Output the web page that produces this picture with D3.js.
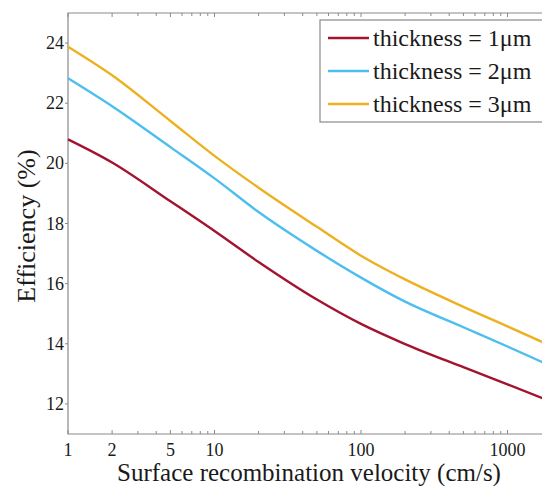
<!DOCTYPE html>
<html>
<head>
<meta charset="utf-8">
<script src="https://cdn.jsdelivr.net/npm/d3@7"></script>
<style>
  body { margin: 0; background: #fff; }
  svg { display: block; overflow: hidden; }
  text { font-family: "Liberation Serif", "Times New Roman", serif; fill: #1a1a1a; }
</style>
</head>
<body>
<div id="chart"></div>
<script>
const width = 542
const height = 486

// surface recombination velocity (cm/s)
const velocity = [1, 2, 5, 10, 20, 50, 100, 200, 500, 1000, 2000]
const eff1um = [20.8, 20.03, 18.74, 17.75, 16.72, 15.47, 14.66, 13.99, 13.22, 12.65, 12.07]
const eff2um = [22.83, 21.9, 20.54, 19.5, 18.38, 17.09, 16.2, 15.4, 14.55, 13.91, 13.25]
const eff3um = [23.88, 22.93, 21.41, 20.25, 19.19, 17.89, 16.93, 16.14, 15.23, 14.58, 13.92]

const seriesNames = ["thickness = 1\u03bcm", "thickness = 2\u03bcm", "thickness = 3\u03bcm"]
const seriesColors = ["#A2142F", "#4DBEEE", "#EDB120"]

const xTickValues = [1, 2, 5, 10, 100, 1000]
const yTickValues = [12, 14, 16, 18, 20, 22, 24]

const plotLeft = 68, plotTop = 13, plotBottom = 434
const plotRight = plotLeft + Math.log10(2000) * 146.5   // runs past the cropped edge

const x = d3.scaleLog().domain([1, 2000]).range([plotLeft, plotRight])
const y = d3.scaleLinear().domain([11, 25]).range([plotBottom, plotTop])

const svg = d3.select("#chart")
  .append("svg")
  .attr("width", width)
  .attr("height", height)

const axisColor = "#8a8a8a"

// minor ticks for the log axis
const minorTicks = []
for (let d = 1; d <= 1000; d *= 10) {
  for (let k = 1; k < 10; k++) {
    if (d * k <= 2000) minorTicks.push(d * k)
  }
}

// bottom ticks (pointing inward)
svg.append("g").selectAll("line")
  .data(minorTicks)
  .join("line")
  .attr("x1", d => x(d)).attr("x2", d => x(d))
  .attr("y1", plotBottom).attr("y2", d => xTickValues.includes(d) ? plotBottom - 4 : plotBottom - 3)
  .attr("stroke", axisColor)

// top ticks (mirror)
svg.append("g").selectAll("line")
  .data(minorTicks)
  .join("line")
  .attr("x1", d => x(d)).attr("x2", d => x(d))
  .attr("y1", plotTop).attr("y2", d => xTickValues.includes(d) ? plotTop + 4 : plotTop + 3)
  .attr("stroke", axisColor)

// left ticks
svg.append("g").selectAll("line")
  .data(yTickValues)
  .join("line")
  .attr("x1", plotLeft - 3).attr("x2", plotLeft)
  .attr("y1", d => y(d)).attr("y2", d => y(d))
  .attr("stroke", axisColor)

// frame
svg.append("path")
  .attr("d", `M${width},${plotTop}H${plotLeft}V${plotBottom}H${width}`)
  .attr("fill", "none")
  .attr("stroke", axisColor)
  .attr("stroke-width", 1.2)

// tick labels
svg.append("g").selectAll("text")
  .data(xTickValues)
  .join("text")
  .attr("x", d => x(d))
  .attr("y", 456)
  .attr("text-anchor", "middle")
  .style("font-size", "18px")
  .text(d => d)

svg.append("g").selectAll("text")
  .data(yTickValues)
  .join("text")
  .attr("x", 64)
  .attr("y", d => y(d) + 6)
  .attr("text-anchor", "end")
  .style("font-size", "18px")
  .text(d => d)

// axis titles
svg.append("text")
  .attr("x", 309)
  .attr("y", 481)
  .attr("text-anchor", "middle")
  .style("font-size", "25px")
  .text("Surface recombination velocity (cm/s)")

svg.append("text")
  .attr("transform", "translate(35,226) rotate(-90)")
  .attr("text-anchor", "middle")
  .style("font-size", "26px")
  .text("Efficiency (%)")

// curves
const line = d3.line()
  .x((d, i) => x(velocity[i]))
  .y(d => y(d))
  .curve(d3.curveMonotoneX)

const plot = svg.append("g")
plot.selectAll("path")
  .data([eff1um, eff2um, eff3um])
  .join("path")
  .attr("d", line)
  .attr("fill", "none")
  .attr("stroke", (d, i) => seriesColors[i])
  .attr("stroke-width", 2.4)

// legend
const legend = svg.append("g")
legend.append("rect")
  .attr("x", 320).attr("y", 20)
  .attr("width", 240).attr("height", 102)
  .attr("fill", "#fff")
  .attr("stroke", axisColor)
  .attr("stroke-width", 1.2)

const rows = legend.selectAll("g")
  .data(seriesNames)
  .join("g")
  .attr("transform", (d, i) => `translate(0,${38 + i * 33})`)

rows.append("line")
  .attr("x1", 328).attr("x2", 369)
  .attr("stroke", (d, i) => seriesColors[i])
  .attr("stroke-width", 2.4)

rows.append("text")
  .attr("x", 373)
  .attr("y", 8)
  .style("font-size", "24px")
  .text(d => d)
</script>
</body>
</html>
